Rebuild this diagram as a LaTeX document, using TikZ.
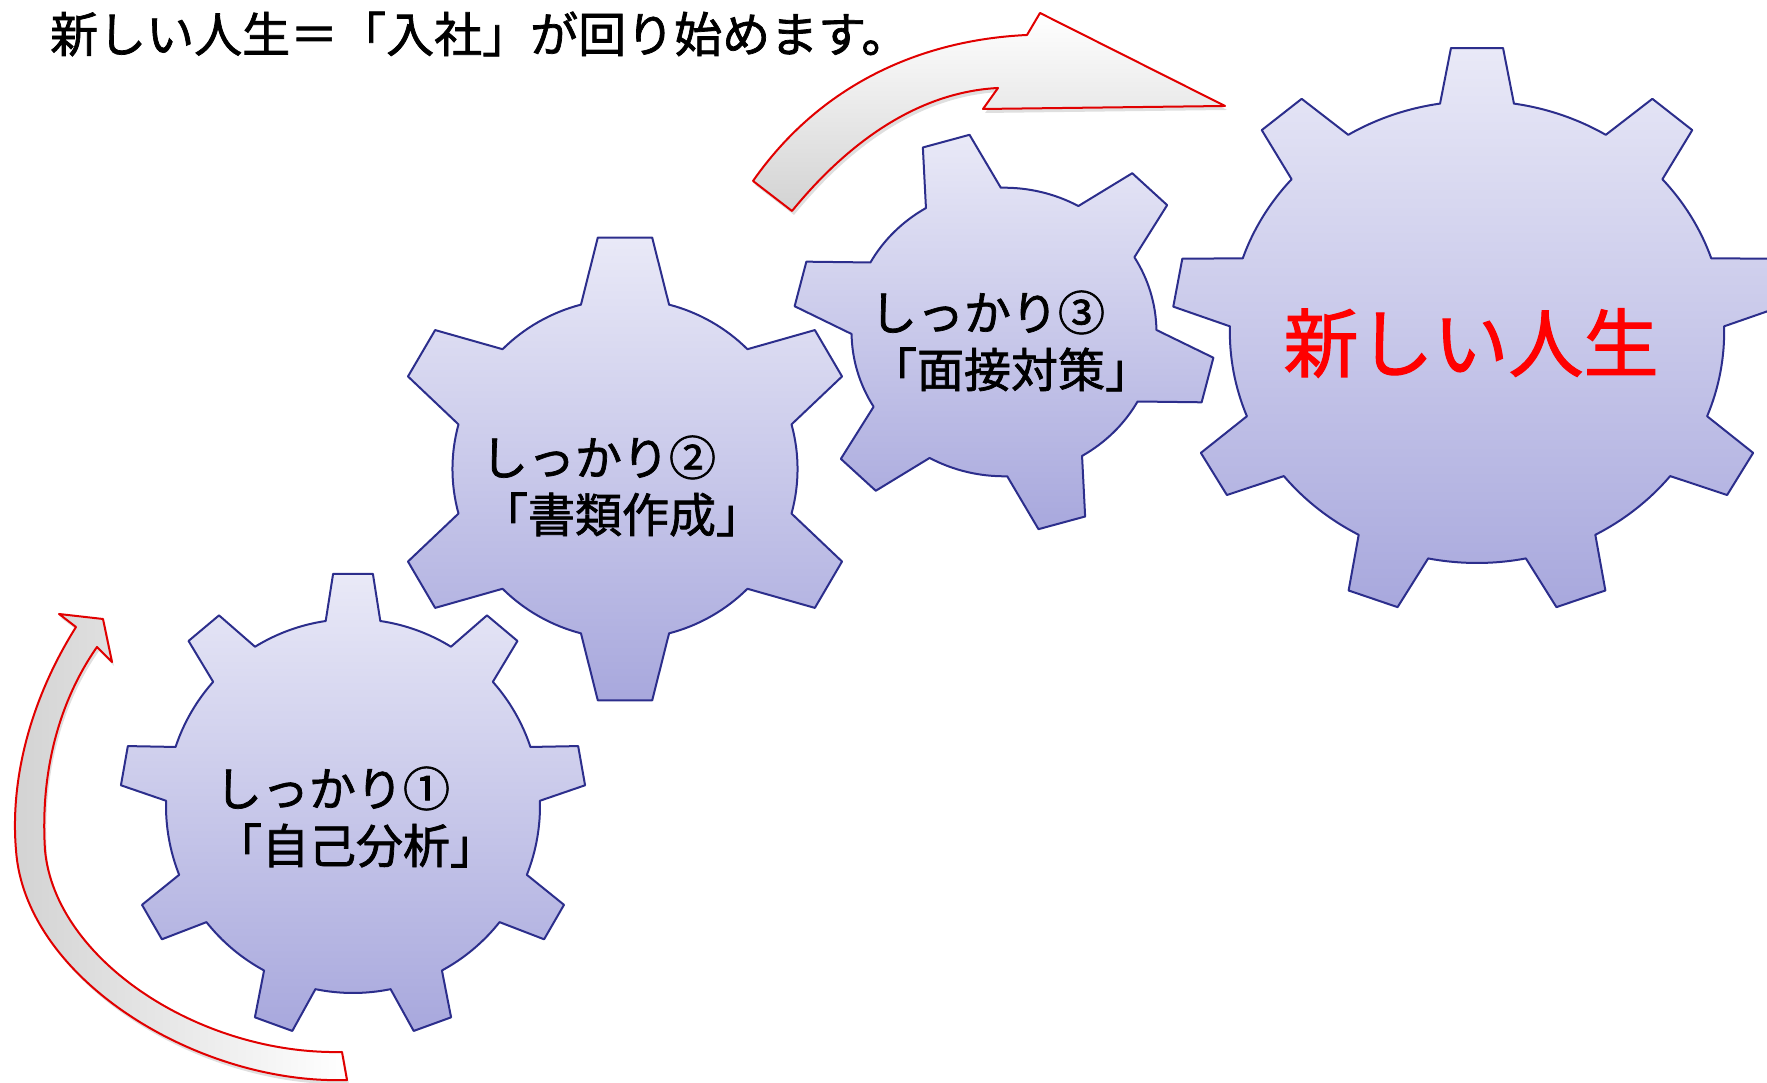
\documentclass[tikz,border=0pt]{standalone}
\usepackage{fontspec}
\setmainfont{Noto Sans CJK JP}[FakeBold=1.5]
\usetikzlibrary{positioning,shadows}
\definecolor{geartop}{RGB}{233,233,247}
\definecolor{gearbot}{RGB}{168,168,221}
\definecolor{gearline}{RGB}{44,46,140}
\definecolor{arrowred}{RGB}{225,0,0}

\begin{document}
\begin{tikzpicture}[x=1pt, y=1pt,
    gear/.style={draw=gearline, line width=2pt, line join=round, top color=geartop, bottom color=gearbot},
    curvedarrow/.style={draw=arrowred, line width=2pt, line join=round, drop shadow={opacity=0.25, shadow xshift=2pt, shadow yshift=-4pt}},
    geartext/.style={font=\fontsize{47}{57}\selectfont, align=left, inner sep=0pt},
    headtext/.style={font=\fontsize{48}{55}\selectfont, anchor=west, inner sep=0pt},
    lifetext/.style={font=\fontsize{75}{80}\selectfont, text=red, inner sep=0pt}]
    \useasboundingbox (0,0) rectangle (1767,1083);

    \foreach \cx/\cy/\nt/\ro/\ri/\tw/\bw/\rot/\sx/\sy [count=\gi] in
        {353/277/9/233/187/4.9/8.4/90/1/1, 625/614/6/233/170/6.6/14.8/90/1.015/1,
         1004/751/6/205/148/6.6/14.8/106/1.03/0.975, 1477/751/9/285/231/4.9/8.6/90/1.07/1}{
        \pgfmathsetmacro\stp{360/\nt}
        \coordinate (g\gi) at (\cx,\cy);
        \path[gear, shift={(\cx,\cy)}, xscale=\sx, yscale=\sy] ({\rot-\bw}:\ri)
            \foreach \i in {1,...,\nt}{
                -- ({\rot+(\i-1)*\stp-\tw}:\ro) -- ({\rot+(\i-1)*\stp+\tw}:\ro)
                -- ({\rot+(\i-1)*\stp+\bw}:\ri)
                arc[start angle={\rot+(\i-1)*\stp+\bw}, end angle={\rot+\i*\stp-\bw}, radius=\ri]
            } -- cycle;
    }

    \draw[curvedarrow, top color=white, bottom color=gray!35]
        (753,902) .. controls (820,998) and (920,1043) .. (1027,1048)
        -- (1040,1070) -- (1225,977) -- (983,974) -- (998,995)
        .. controls (920,991) and (850,943) .. (792,872) -- cycle;
    \draw[curvedarrow, left color=gray!35, right color=white]
        (347,3) .. controls (200,-2) and (25,103) .. (16,233)
        .. controls (10,303) and (30,383) .. (76,456)
        -- (59,469) -- (103,464) -- (112,421) -- (97,436)
        .. controls (60,383) and (40,313) .. (45,233)
        .. controls (55,123) and (200,28) .. (342,31) -- cycle;

    \node[headtext] (head) at (50,1049) {新しい人生＝「入社」が回り始めます。};
    \node[geartext] (s1) at ([shift={(3,-11)}]g1) {しっかり①\\「自己分析」};
    \node[geartext] (s2) at ([shift={(-3,-17)}]g2) {しっかり②\\「書類作成」};
    \node[geartext] (s3) at ([shift={(7,-9)}]g3) {しっかり③\\「面接対策」};
    \node[lifetext] (life) at ([shift={(-6,-11)}]g4) {新しい人生};
\end{tikzpicture}
\end{document}
